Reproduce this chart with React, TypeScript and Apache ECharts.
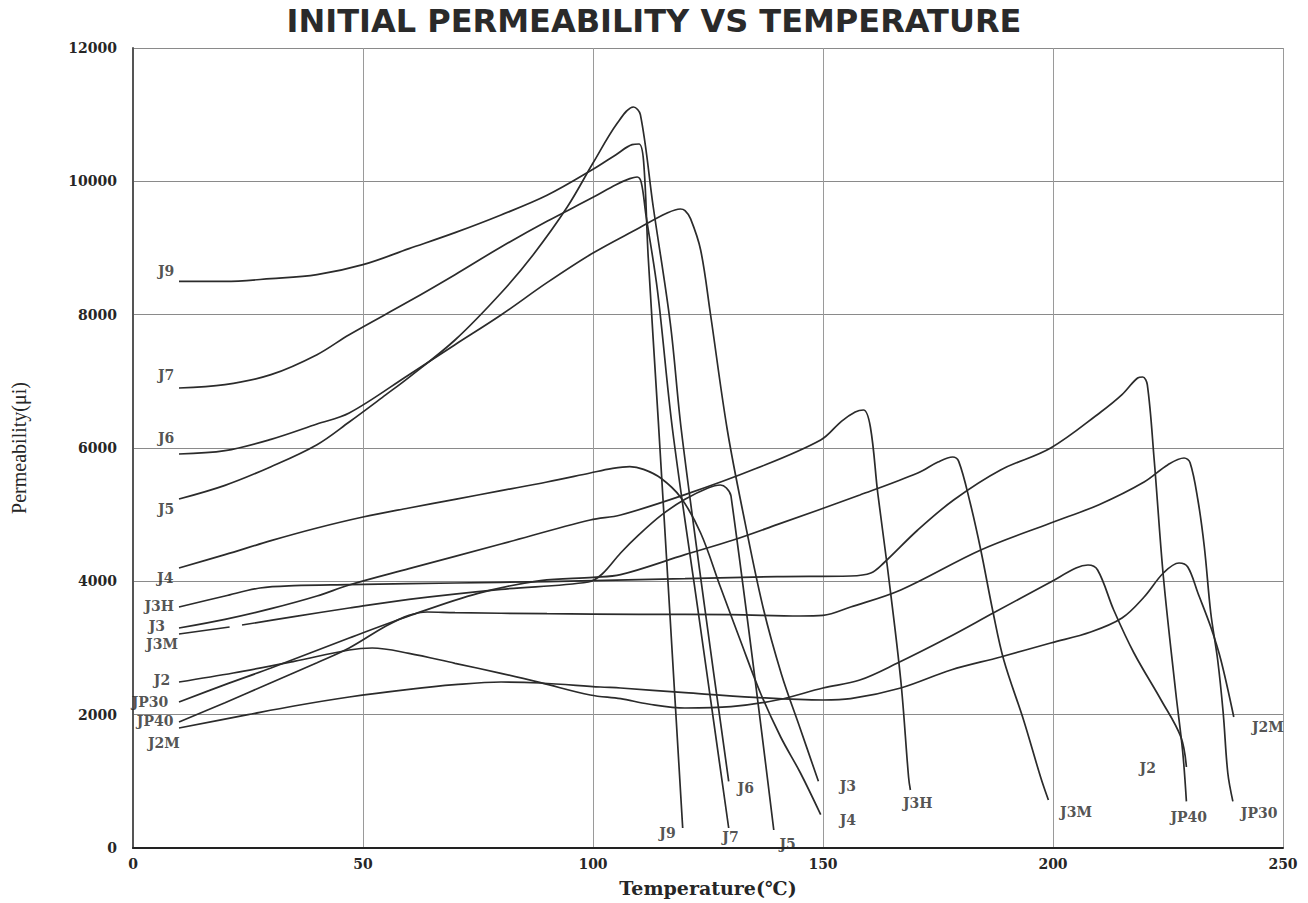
import React, { useEffect, useRef } from 'react';
import * as echarts from 'echarts';

// ---- curve data: [temperature (°C), permeability (µi)] ----
const J9 = [[10,8500],[20,8500],[30,8540],[40,8600],[50,8750],[60,8990],[70,9230],[80,9495],[90,9790],[100,10180],[105,10400],[108.5,10550],[110,10560],[111,10300],[112,8865],[114.2,6400],[119.5,300]];
const J7 = [[10,6900],[20,6950],[30,7100],[40,7400],[47,7700],[60,8200],[70,8600],[80,9015],[90,9400],[100,9760],[105,9950],[108,10040],[109.6,10065],[110.5,9980],[111.5,9500],[114,8370],[117.3,6270],[123,3480],[129.5,300]];
const J6 = [[10,5910],[20,5960],[30,6130],[40,6360],[47,6525],[60,7100],[70,7550],[80,7995],[90,8480],[100,8925],[110,9300],[116,9520],[119,9585],[120,9560],[121.2,9440],[123.4,8970],[125.5,8025],[129.2,6270],[133,4900],[137,3600],[141,2600],[145,1800],[149,1000]];
const J5 = [[10,5235],[20,5440],[30,5720],[40,6050],[47,6390],[55,6800],[60,7060],[70,7620],[80,8325],[87,8900],[94.4,9615],[100,10275],[105.3,10875],[108.8,11115],[110.3,11000],[113.1,9615],[116.8,7875],[119.2,6270],[124.3,3600],[129.5,1000]];
const J4 = [[10,4200],[20,4400],[30,4610],[40,4800],[50,4965],[60,5100],[70,5230],[80,5360],[90,5490],[99.4,5625],[104,5690],[108,5720],[111,5680],[114.7,5550],[119,5265],[123.4,4725],[127.7,3915],[132,3120],[136.4,2325],[140.8,1665],[145.1,1125],[149.5,500]];
const J3 = [[10,3300],[20,3430],[30,3590],[40,3780],[47,3945],[60,4190],[80,4560],[99.4,4920],[106,4995],[120,5300],[135,5680],[149.5,6120],[154,6400],[157,6540],[158.8,6570],[160.3,6315],[161.9,5325],[164,4215],[166.9,2520],[168.6,1065],[169,870]];
const J3H = [[10,3615],[20,3780],[27.6,3900],[35,3935],[47,3950],[60,3965],[80,3985],[100,4010],[120,4040],[140,4070],[156,4080],[160.4,4125],[163.2,4275],[170.6,4770],[178.4,5220],[188.6,5670],[199.5,6000],[210.4,6540],[215,6800],[218.4,7050],[219.5,7065],[220.5,6950],[222,5820],[224,4065],[226.7,2325],[228.2,1440],[229,700]];
const J3M = [[10,3210],[21,3315],[22.4,'-'],[23.7,3345],[35,3470],[47,3600],[60,3730],[80,3880],[99,3990],[102,4110],[106,4425],[110,4700],[115,5000],[120,5230],[125,5400],[127.7,5445],[129,5400],[130,5280],[139.3,270]];
const J2 = [[10,2490],[21.8,2625],[35,2800],[47,2970],[52,3000],[60,2920],[70,2770],[80,2620],[88.6,2480],[99.4,2295],[106,2240],[112,2160],[120,2100],[130,2120],[140,2220],[150,2400],[158,2520],[166.2,2775],[177,3150],[187,3525],[199.5,3990],[205,4200],[207.6,4245],[209.7,4170],[213.2,3570],[217.6,2925],[223.5,2220],[227.8,1665],[229,1215]];
const JP30 = [[10,2190],[20,2450],[30,2700],[47,3150],[60,3480],[75,3820],[88.6,4010],[100,4060],[106,4100],[120,4400],[130.5,4620],[140,4850],[158,5295],[170.6,5625],[175,5790],[178.2,5865],[179.5,5800],[182,5175],[184.3,4470],[187,3525],[189.3,2820],[193.6,1920],[197.3,1065],[199,720]];
const JP40 = [[10,1890],[20,2180],[30,2480],[40,2780],[47,3000],[55,3330],[60,3490],[64,3540],[70,3530],[90,3515],[110,3505],[130,3500],[145,3480],[150,3490],[156,3615],[166.9,3870],[184.3,4470],[199.5,4875],[210,5150],[219.8,5490],[225,5750],[228.5,5850],[229.8,5780],[231.5,5220],[232.9,4515],[234.3,3525],[235.8,2820],[237,2025],[238,1125],[239.1,700]];
const J2M = [[10,1800],[25,2000],[35,2130],[47,2265],[60,2380],[70,2450],[80,2490],[88.6,2475],[101.6,2415],[106,2400],[120,2330],[135,2260],[150,2220],[156,2240],[166.9,2400],[177.8,2670],[188.6,2865],[199.5,3075],[208.2,3240],[215,3450],[219.8,3765],[224,4125],[227.4,4275],[229.3,4215],[231.5,3825],[234.3,3315],[236.5,2820],[239.3,1965]];

const curveNames = ['J9','J7','J6','J5','J4','J3','J3H','J3M','J2','JP30','JP40','J2M'];
const curves = [J9, J7, J6, J5, J4, J3, J3H, J3M, J2, JP30, JP40, J2M];

// ---- curve labels (start and end of each curve), in data units ----
const labelNames = ['J9','J7','J6','J5','J4','J3H','J3','J3M','J2','JP30','JP40','J2M',
  'J9','J7','J6','J5','J3','J4','J3H','J3M','J2','JP40','JP30','J2M'];
const labelX = [7.2,7.2,7.2,7.2,7.0,5.7,5.2,6.3,6.3,3.7,4.8,6.7,
  116.2,129.9,133.2,142.3,155.4,155.4,170.6,205,220.6,229.5,244.8,246.7];
const labelY = [8655,7095,6150,5085,4050,3630,3330,3060,2520,2190,1905,1575,
  225,165,900,60,930,420,675,540,1200,465,525,1815];

const titleText = 'INITIAL PERMEABILITY VS TEMPERATURE';
const xAxisName = 'Temperature(℃)';
const yAxisName = 'Permeability(μi)';
const xMin = 0, xMax = 250, xStep = 50;
const yMin = 0, yMax = 12000, yStep = 2000;

export default function App() {
  const ref = useRef<HTMLDivElement>(null);
  useEffect(() => {
    document.body.style.margin = '0';
    if (!ref.current) return;
    const chart = echarts.init(ref.current, null, { renderer: 'svg' });
    const serif = 'DejaVu Serif';
    const lineSeries = curves.map((d, i) => ({
      name: curveNames[i],
      type: 'line',
      data: d,
      showSymbol: false,
      symbol: 'none',
      smooth: 0.35,
      connectNulls: false,
      silent: true,
      lineStyle: { color: '#2b2b2b', width: 1.7 },
      z: 3,
    }));
    const labelSeries = {
      type: 'scatter',
      symbolSize: 0,
      silent: true,
      data: labelNames.map((n, i) => ({ name: n, value: [labelX[i], labelY[i]] })),
      label: {
        show: true,
        position: 'inside',
        formatter: (p: any) => p.name,
        fontFamily: serif,
        fontWeight: 'bold',
        fontSize: 14,
        color: '#262626',
      },
      z: 5,
    };
    chart.setOption({
      animation: false,
      backgroundColor: '#ffffff',
      title: {
        text: titleText,
        left: 'center',
        top: 0,
        textStyle: { fontFamily: 'DejaVu Sans', fontWeight: 'bold', fontSize: 32, color: '#2a2a2a' },
      },
      grid: { left: 133, right: 25, top: 48, bottom: 55, containLabel: false, outerBoundsMode: 'none' },
      xAxis: {
        type: 'value',
        min: xMin, max: xMax, interval: xStep,
        name: xAxisName,
        nameLocation: 'middle',
        nameGap: 30,
        nameTextStyle: { fontFamily: serif, fontWeight: 'bold', fontSize: 19, color: '#262626' },
        axisLine: { show: true, lineStyle: { color: '#222', width: 2 } },
        axisTick: { show: false },
        axisLabel: { margin: 9, fontFamily: serif, fontWeight: 'bold', fontSize: 14, color: '#262626', formatter: (v: number) => String(v) },
        splitLine: { show: true, lineStyle: { color: '#9a9a9a', width: 1 } },
      },
      yAxis: {
        type: 'value',
        min: yMin, max: yMax, interval: yStep,
        name: yAxisName,
        nameLocation: 'middle',
        nameGap: 104,
        nameTextStyle: { fontFamily: 'Liberation Serif', fontSize: 20, color: '#262626' },
        axisLine: { show: true, lineStyle: { color: '#555', width: 2 } },
        axisTick: { show: false },
        axisLabel: { margin: 16, fontFamily: serif, fontWeight: 'bold', fontSize: 14, color: '#262626', formatter: (v: number) => String(v) },
        splitLine: { show: true, lineStyle: { color: '#8a8a8a', width: 1 } },
      },
      series: [...lineSeries, labelSeries],
    });
    return () => chart.dispose();
  }, []);
  return <div ref={ref} style={{ position: 'fixed', left: 0, top: 0, width: 1308, height: 903 }} />;
}
